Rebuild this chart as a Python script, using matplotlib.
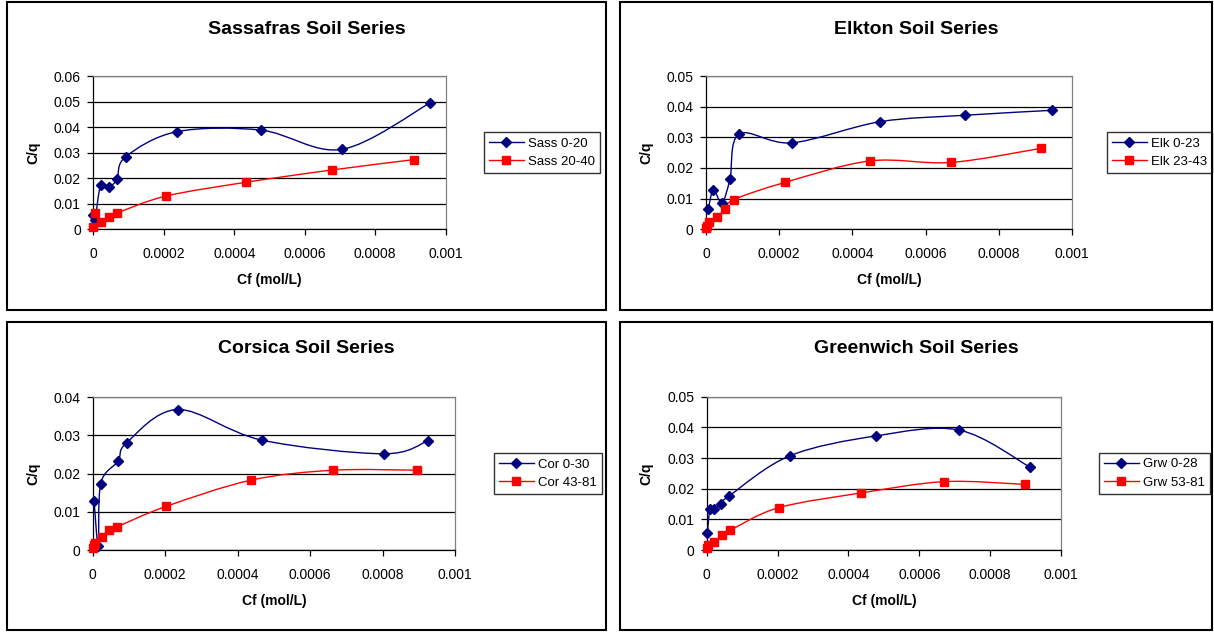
import numpy as np
import matplotlib
matplotlib.use('Agg')
import matplotlib.pyplot as plt
from matplotlib.path import Path
from matplotlib.patches import PathPatch, Rectangle
from matplotlib.lines import Line2D
from matplotlib.ticker import FuncFormatter, MultipleLocator

plt.rcParams['font.family'] = ['Liberation Sans', 'DejaVu Sans']

# Sassafras
sass_a_x = [0.0000005, 0.000005, 0.0000208, 0.0000454, 0.0000672, 0.0000918, 0.000237, 0.000477, 0.000705, 0.000955]
sass_a_y = [0.0056, 0.0036, 0.0172, 0.0167, 0.0197, 0.0284, 0.0382, 0.0388, 0.0313, 0.0494]
sass_b_x = [0.0, 0.0000048, 0.0000218, 0.0000440, 0.0000660, 0.000206, 0.000433, 0.000676, 0.000911]
sass_b_y = [0.0010, 0.0062, 0.0029, 0.0048, 0.0063, 0.0130, 0.0184, 0.0232, 0.0273]

# Elkton
elk_a_x = [0.0000064, 0.0000200, 0.0000437, 0.0000655, 0.0000910, 0.000235, 0.000476, 0.000708, 0.000944]
elk_a_y = [0.0066, 0.0128, 0.0087, 0.0164, 0.0311, 0.0282, 0.0351, 0.0372, 0.0388]
elk_b_x = [0.0000005, 0.000002, 0.0000091, 0.0000291, 0.0000528, 0.0000765, 0.000216, 0.000448, 0.000669, 0.000915]
elk_b_y = [0.0005, 0.0010, 0.0025, 0.0041, 0.0065, 0.0097, 0.0153, 0.0223, 0.0218, 0.0264]

# Corsica
cor_a_x = [0.0000037, 0.0000155, 0.0000221, 0.0000699, 0.0000938, 0.000235, 0.000466, 0.000803, 0.000925]
cor_a_y = [0.0129, 0.0011, 0.0174, 0.0233, 0.0281, 0.0368, 0.0288, 0.0252, 0.0286]
cor_b_x = [0.0, 0.000003, 0.0000075, 0.0000258, 0.0000460, 0.0000681, 0.000202, 0.000437, 0.000664, 0.000895]
cor_b_y = [0.0006, 0.0013, 0.0018, 0.0035, 0.0052, 0.0061, 0.0114, 0.0183, 0.0209, 0.0209]

# Greenwich
grw_a_x = [0.0000017, 0.0000093, 0.0000206, 0.0000400, 0.0000640, 0.000234, 0.000477, 0.000713, 0.000913]
grw_a_y = [0.0054, 0.0133, 0.0133, 0.0151, 0.0177, 0.0307, 0.0372, 0.0391, 0.0270]
grw_b_x = [0.0, 0.0000047, 0.0000216, 0.0000442, 0.0000659, 0.000203, 0.000436, 0.000671, 0.000897]
grw_b_y = [0.0007, 0.0016, 0.0027, 0.0048, 0.0064, 0.0138, 0.0186, 0.0223, 0.0214]

NAVY = '#000080'
RED = '#FF0000'
W, H = 1214, 632

fig = plt.figure(figsize=(W / 100, H / 100), dpi=100)


def box(x0, y0, x1, y1):
    return [x0 / W, 1 - y1 / H, (x1 - x0) / W, (y1 - y0) / H]


def smooth_path(x, y):
    # bezier segments with 1/6 neighbour tangents (spreadsheet style smoothing)
    p = np.column_stack([x, y])
    n = len(p)
    verts = [p[0]]
    codes = [Path.MOVETO]
    for i in range(n - 1):
        p0 = p[i - 1] if i > 0 else p[i]
        p3 = p[i + 2] if i + 2 < n else p[i + 1]
        c1 = p[i] + (p[i + 1] - p0) / 6
        c2 = p[i + 1] - (p3 - p[i]) / 6
        verts += [c1, c2, p[i + 1]]
        codes += [Path.CURVE4] * 3
    return Path(verts, codes)


def fmt(v, pos):
    return '0' if abs(v) < 1e-12 else f'{v:g}'


def panel(frame, plot, title, series, ymax, leg_x):
    fx0, fy0, fx1, fy1 = frame
    fig.patches.append(Rectangle((fx0 / W, 1 - fy1 / H), (fx1 - fx0) / W, (fy1 - fy0) / H,
                                 transform=fig.transFigure, fill=False,
                                 edgecolor='black', linewidth=1.5))
    ax = fig.add_axes(box(*plot))
    for x, y, color, marker, ms, label in series:
        ax.add_patch(PathPatch(smooth_path(x, y), fill=False, edgecolor=color, linewidth=1.0))
        ax.plot(x, y, linestyle='none', marker=marker, color=color, markersize=ms,
                clip_on=False, zorder=3)
    ax.set_xlim(0, 0.001)
    ax.set_ylim(0, ymax)
    ax.xaxis.set_major_locator(MultipleLocator(0.0002))
    ax.yaxis.set_major_locator(MultipleLocator(0.01))
    ax.xaxis.set_major_formatter(FuncFormatter(fmt))
    ax.yaxis.set_major_formatter(FuncFormatter(fmt))
    ax.grid(axis='y', color='black', linewidth=0.9)
    ax.set_axisbelow(True)
    ax.tick_params(axis='both', direction='out', length=4, width=0.9, labelsize=10,
                   colors='black')
    ax.tick_params(axis='x', pad=9)
    ax.tick_params(axis='y', pad=5)
    for s in ('left', 'bottom'):
        ax.spines[s].set_color('black')
        ax.spines[s].set_linewidth(0.9)
    for s in ('top', 'right'):
        ax.spines[s].set_color('#808080')
        ax.spines[s].set_linewidth(0.9)

    cx = (fx0 + fx1) / 2
    fig.text(cx / W, 1 - (fy0 + 27) / H, title, ha='center', va='center',
             fontsize=14, fontweight='bold')
    px0, py0, px1, py1 = plot
    fig.text((px0 + px1) / 2 / W, 1 - (py1 + 51) / H, 'Cf (mol/L)', ha='center',
             va='center', fontsize=10, fontweight='bold')
    fig.text((fx0 + 26) / W, 1 - (py0 + py1) / 2 / H, 'C/q', ha='center', va='center',
             rotation=90, fontsize=10, fontweight='bold')

    handles = [Line2D([], [], color=c, marker=m, markersize=ms, linewidth=1.0)
               for _, _, c, m, ms, _ in series]
    labels = [s[5] for s in series]
    ax.legend(handles, labels, loc='center left',
              bbox_to_anchor=(leg_x / W, 1 - (py0 + py1) / 2 / H),
              bbox_transform=fig.transFigure, borderaxespad=0, frameon=True,
              fancybox=False, edgecolor='black', fontsize=9.5, handlelength=2.6,
              handletextpad=0.3, labelspacing=0.45, borderpad=0.4)
    ax.get_legend().get_frame().set_linewidth(1.0)
    return ax


panel((7, 2, 606, 310), (93.3, 76, 445.7, 229.3), 'Sassafras Soil Series',
      [(sass_a_x, sass_a_y, NAVY, 'D', 5.5, 'Sass 0-20'),
       (sass_b_x, sass_b_y, RED, 's', 5.5, 'Sass 20-40')], 0.06, 484)
panel((620, 2, 1212, 310), (706, 76, 1072, 229.3), 'Elkton Soil Series',
      [(elk_a_x, elk_a_y, NAVY, 'D', 5.5, 'Elk 0-23'),
       (elk_b_x, elk_b_y, RED, 's', 5.5, 'Elk 23-43')], 0.05, 1107)
panel((7, 322, 606, 630), (92.7, 397.3, 455, 550), 'Corsica Soil Series',
      [(cor_a_x, cor_a_y, NAVY, 'D', 5.5, 'Cor 0-30'),
       (cor_b_x, cor_b_y, RED, 's', 5.5, 'Cor 43-81')], 0.04, 494)
panel((620, 322, 1212, 630), (706.7, 396.7, 1061, 550), 'Greenwich Soil Series',
      [(grw_a_x, grw_a_y, NAVY, 'D', 5.5, 'Grw 0-28'),
       (grw_b_x, grw_b_y, RED, 's', 5.5, 'Grw 53-81')], 0.05, 1099)

fig.savefig('out.png', dpi=100, facecolor='white')
